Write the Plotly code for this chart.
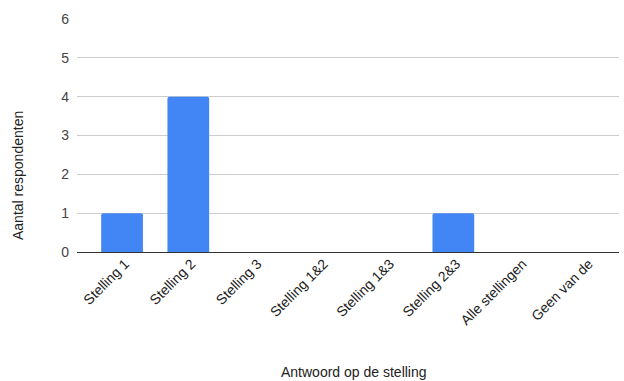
import plotly.graph_objects as go

categories = ["Stelling 1", "Stelling 2", "Stelling 3", "Stelling 1&2",
              "Stelling 1&3", "Stelling 2&3", "Alle stellingen", "Geen van de"]
respondents = [1, 4, 0, 0, 0, 1, 0, 0]
y_ticks = [0, 1, 2, 3, 4, 5, 6]

# plot area in pixels
W, H = 624, 381
L, R, T, B = 77, 5, 19, 129
plot_w = W - L - R
plot_h = H - T - B

fig = go.Figure(go.Bar(
    x=list(range(len(categories))),
    y=respondents,
    width=0.63,
    marker=dict(color="#4285f4", line=dict(width=0), cornerradius=2),
))

fig.update_layout(
    width=W, height=H,
    margin=dict(l=L, r=R, t=T, b=B),
    paper_bgcolor="white", plot_bgcolor="white",
    font=dict(family="Liberation Sans, Arial", size=14, color="#222222"),
    showlegend=False,
    xaxis=dict(
        range=[-0.68, 7.5],
        tickmode="array",
        tickvals=list(range(len(categories))),
        ticktext=categories,
        tickangle=-45,
        ticklabelshift=3,
        showgrid=False,
        zeroline=False,
        showline=False,
        ticks="",
        tickfont=dict(size=14, color="#222222"),
    ),
    yaxis=dict(
        range=[0, 6],
        tickvals=y_ticks,
        showgrid=True,
        gridcolor="#cccccc",
        gridwidth=1,
        zeroline=True,
        zerolinecolor="#333333",
        zerolinewidth=1,
        ticks="",
        ticklabelstandoff=7,
        tickfont=dict(size=14, color="#444444"),
    ),
    annotations=[
        dict(text="Aantal respondenten", xref="paper", yref="paper",
             x=(18 - L) / plot_w, y=(H - B - 176) / plot_h,
             xanchor="center", yanchor="middle",
             showarrow=False, textangle=-90,
             font=dict(size=14, color="#222222")),
        dict(text="Antwoord op de stelling", xref="paper", yref="paper",
             x=(354 - L) / plot_w, y=(H - B - 372) / plot_h,
             xanchor="center", yanchor="middle",
             showarrow=False, font=dict(size=14, color="#222222")),
    ],
)

fig.write_html("out.html")
